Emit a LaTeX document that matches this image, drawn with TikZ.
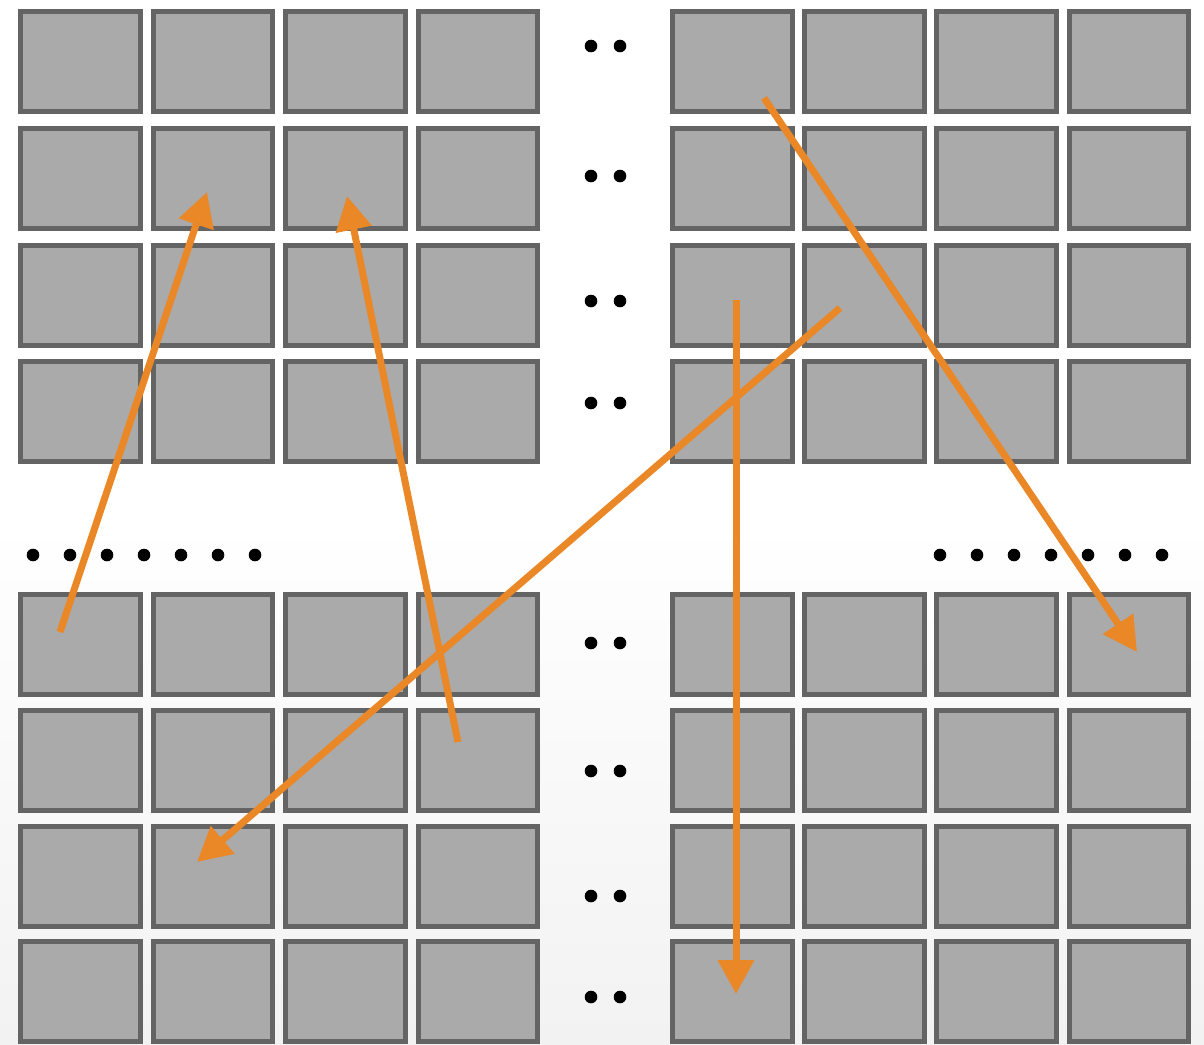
\documentclass[tikz,border=0pt]{standalone}
\usepackage{tikz}
\usetikzlibrary{arrows.meta}
\definecolor{cellfill}{HTML}{AAAAAA}
\definecolor{celledge}{HTML}{646464}
\definecolor{flowcol}{HTML}{EA8726}
\definecolor{bgbottom}{HTML}{F2F2F2}
\begin{document}
\begin{tikzpicture}[x=1pt,y=-1pt,
      cell/.style={rectangle,draw=celledge,fill=cellfill,line width=5pt,
        minimum width=119.5pt,minimum height=100pt,inner sep=0pt},
      flow/.style={color=flowcol,line width=7pt,
        -{Triangle[length=34pt,width=35pt]}},
      dot/.style={fill=black}]
      \useasboundingbox (0,0) rectangle (1204,1044);
      % background
      \fill[white] (0,0) rectangle (1204,520);
      \shade[top color=white,bottom color=bgbottom] (0,520) rectangle (1204,1044);

      % the four blocks of cells
      \foreach \i/\x in {1/80.55,2/213.05,3/345.55,4/478.05,
                         5/732.25,6/864.45,7/996.65,8/1128.85} {
        \foreach \j/\y in {1/61.8,2/178.4,3/295,4/411.6,
                           5/644.8,6/760.4,7/876,8/991.6} {
          \node[cell] (c-\i-\j) at (\x,\y) {};
        }
      }

      % dots between the blocks
      \foreach \y in {46,176,301,403,643,771,896,997} {
        \fill[dot] (591,\y) circle (6.3);
        \fill[dot] (620,\y) circle (6.3);
      }
      \foreach \k in {0,...,6} {
        \fill[dot] (33+37*\k,555) circle (6.3);
        \fill[dot] (940+37*\k,555) circle (6.3);
      }

      % ends of the arrows
      \coordinate (s1) at (60,632);   \coordinate (t1) at (207,192);
      \coordinate (s2) at (458,742);  \coordinate (t2) at (347,196);
      \coordinate (s3) at (840,308);  \coordinate (t3) at (197,862);
      \coordinate (s4) at (736,300);  \coordinate (t4) at (736,994);
      \coordinate (s5) at (764,98);   \coordinate (t5) at (1137,652);

      \draw[flow] (s1) -- (t1);
      \draw[flow] (s2) -- (t2);
      \draw[flow] (s3) -- (t3);
      \draw[flow] (s4) -- (t4);
      \draw[flow] (s5) -- (t5);
    \end{tikzpicture}
\end{document}
